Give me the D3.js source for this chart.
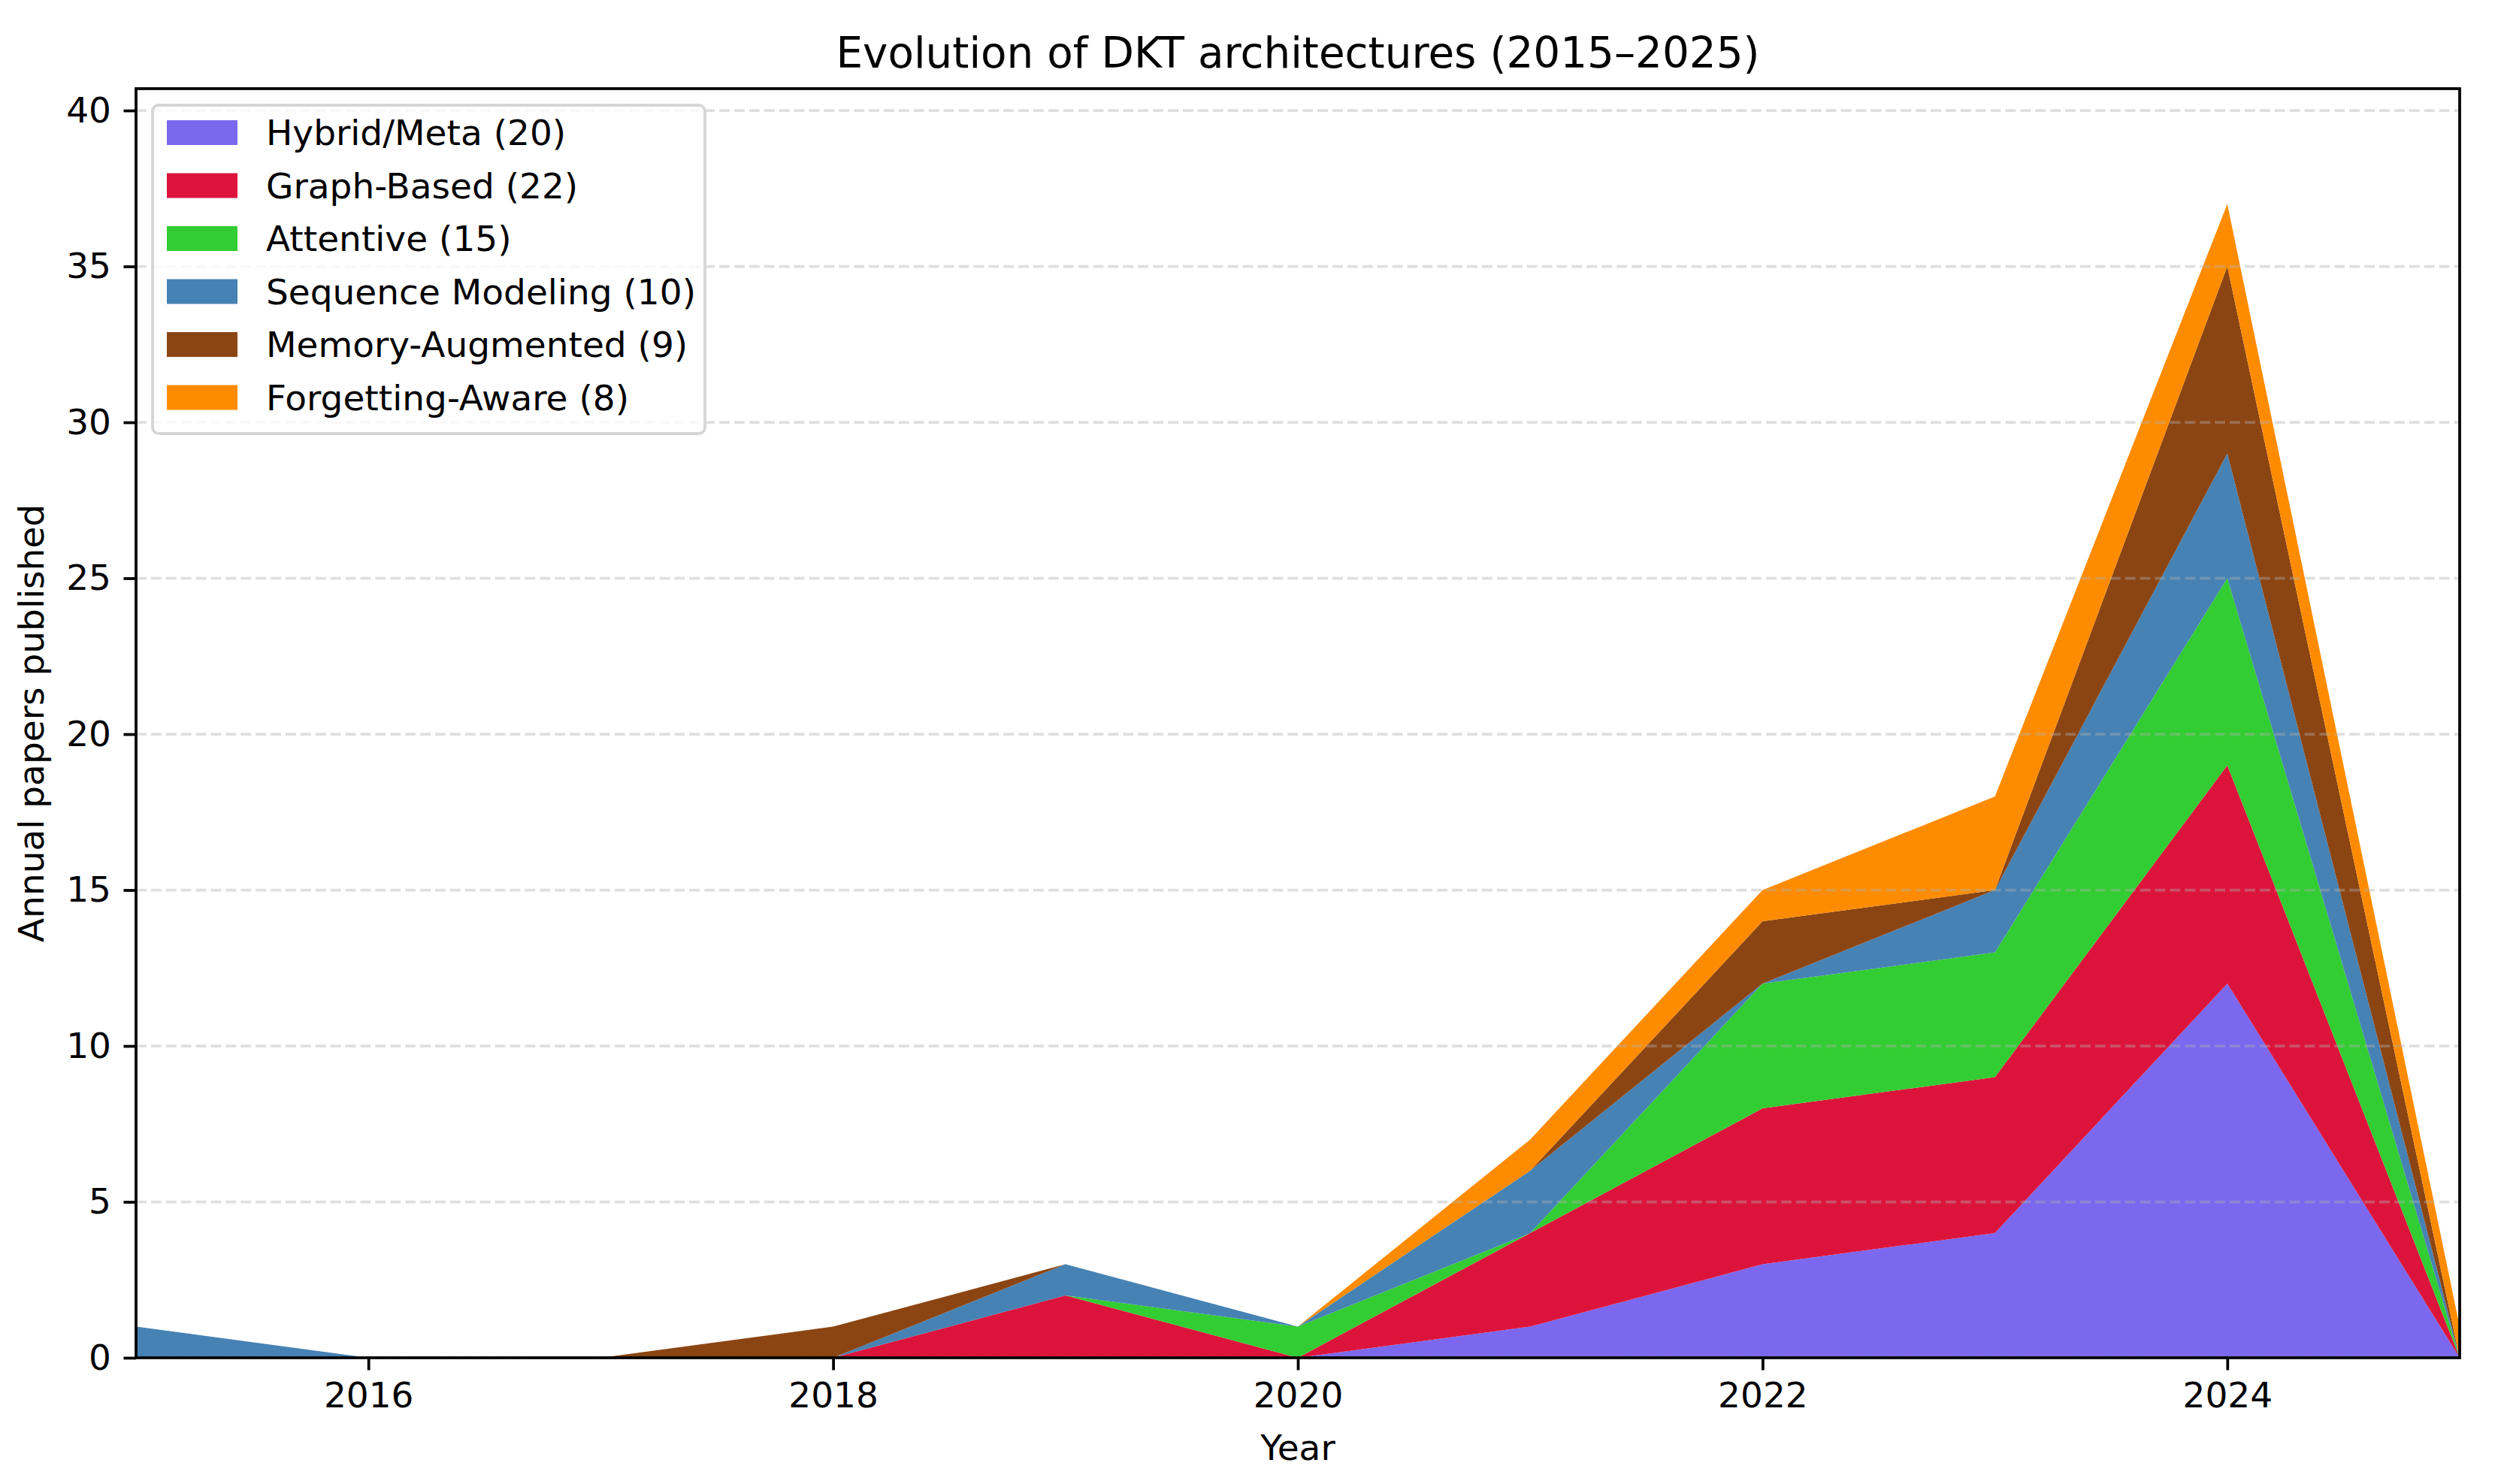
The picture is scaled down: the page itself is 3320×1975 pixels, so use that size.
<!DOCTYPE html>
<html>
<head>
<meta charset="utf-8">
<script src="https://cdn.jsdelivr.net/npm/d3@7"></script>
<style>
  body { margin: 0; background: #fff; }
  svg { display: block; font-family: "DejaVu Sans", sans-serif; }
</style>
</head>
<body>
<svg id="chart" width="3320" height="1975"></svg>
<script>
const years = [2015, 2016, 2017, 2018, 2019, 2020, 2021, 2022, 2023, 2024, 2025]

// bottom to top of the stack
const categories = ['Hybrid/Meta', 'Graph-Based', 'Attentive', 'Sequence Modeling', 'Memory-Augmented', 'Forgetting-Aware']
const colors = ['#7B68EE', '#DC143C', '#32CD32', '#4682B4', '#8B4513', '#FF8C00']

const hybridMeta   = [0, 0, 0, 0, 0, 0, 1, 3, 4, 12, 0]
const graphBased   = [0, 0, 0, 0, 2, 0, 3, 5, 5, 7, 0]
const attentive    = [0, 0, 0, 0, 0, 1, 0, 4, 4, 6, 0]
const seqModeling  = [1, 0, 0, 0, 1, 0, 2, 0, 2, 4, 0]
const memoryAug    = [0, 0, 0, 1, 0, 0, 0, 2, 0, 6, 0]
const forgetting   = [0, 0, 0, 0, 0, 0, 1, 1, 3, 2, 1]

const series = [hybridMeta, graphBased, attentive, seqModeling, memoryAug, forgetting]

const xTicks = [2016, 2018, 2020, 2022, 2024]
const yTicks = [0, 5, 10, 15, 20, 25, 30, 35, 40]

const fs = 47
const lw = 3.76

const svg = d3.select('#chart')
const margin = { left: 181, top: 118, right: 47, bottom: 168 }
const width = 3320 - margin.left - margin.right
const height = 1975 - margin.top - margin.bottom

const table = years.map((y, i) => {
    const row = { year: y }
    categories.forEach((c, k) => { row[c] = series[k][i] })
    return row
})

const totals = years.map((y, i) => d3.sum(series, s => s[i]))

const x = d3.scaleLinear().domain([2015, 2025]).range([0, width])
const y = d3.scaleLinear().domain([0, d3.max(totals) * 1.1]).range([height, 0])

const stacked = d3.stack().keys(categories)(table)

const g = svg.append('g').attr('transform', `translate(${margin.left},${margin.top})`)

g.append('defs').append('clipPath').attr('id', 'clip')
    .append('rect').attr('width', width).attr('height', height)

const area = d3.area()
    .x(d => x(d.data.year))
    .y0(d => y(d[0]))
    .y1(d => y(d[1]))

g.append('g').attr('clip-path', 'url(#clip)')
    .selectAll('path')
    .data(stacked)
    .enter().append('path')
    .attr('d', area)
    .attr('fill', (d, i) => colors[i])

// grid on top of the areas
g.append('g')
    .selectAll('line')
    .data(yTicks)
    .enter().append('line')
    .attr('x1', 0)
    .attr('x2', width)
    .attr('y1', d => y(d))
    .attr('y2', d => y(d))
    .attr('stroke', '#b0b0b0')
    .attr('stroke-opacity', 0.4)
    .attr('stroke-width', lw)
    .attr('stroke-dasharray', '13.9,6')

const xAxis = g.append('g')
    .attr('transform', `translate(0,${height})`)
    .call(d3.axisBottom(x).tickValues(xTicks).tickFormat(d3.format('d'))
        .tickSize(16.5).tickPadding(16.5))
const yAxis = g.append('g')
    .call(d3.axisLeft(y).tickValues(yTicks).tickSize(16.5).tickPadding(16.5))

;[xAxis, yAxis].forEach(a => {
    a.select('.domain').remove()
    a.selectAll('.tick line').attr('stroke', '#000').attr('stroke-width', lw)
    a.selectAll('.tick text').attr('fill', '#000').style('font-size', fs + 'px')
        .style('font-family', '"DejaVu Sans", sans-serif')
})

// frame
g.append('rect')
    .attr('width', width)
    .attr('height', height)
    .attr('fill', 'none')
    .attr('stroke', '#000')
    .attr('stroke-width', lw)

// titles
svg.append('text')
    .attr('x', margin.left + width / 2)
    .attr('y', 90)
    .attr('text-anchor', 'middle')
    .style('font-size', (fs * 1.2) + 'px')
    .text('Evolution of DKT architectures (2015–2025)')

svg.append('text')
    .attr('x', margin.left + width / 2)
    .attr('y', 1943)
    .attr('text-anchor', 'middle')
    .style('font-size', fs + 'px')
    .text('Year')

svg.append('text')
    .attr('transform', `translate(58,${margin.top + height / 2}) rotate(-90)`)
    .attr('text-anchor', 'middle')
    .style('font-size', fs + 'px')
    .text('Annual papers published')

// legend
const legend = g.append('g').attr('transform', 'translate(22,22)')
const rowPitch = 70.5
const labels = categories.map((c, i) => `${c} (${d3.sum(series[i])})`)

legend.append('rect')
    .attr('width', 735)
    .attr('height', 437)
    .attr('rx', 8)
    .attr('fill', '#fff')
    .attr('fill-opacity', 0.8)
    .attr('stroke', '#d6d6d6')
    .attr('stroke-width', lw)

const items = legend.selectAll('.item')
    .data(labels)
    .enter().append('g')
    .attr('class', 'item')
    .attr('transform', (d, i) => `translate(19,${20 + i * rowPitch})`)

items.append('rect')
    .attr('width', 94)
    .attr('height', 33)
    .attr('fill', (d, i) => colors[i])

items.append('text')
    .attr('x', 132)
    .attr('y', 33)
    .style('font-size', fs + 'px')
    .text(d => d)
</script>
</body>
</html>
